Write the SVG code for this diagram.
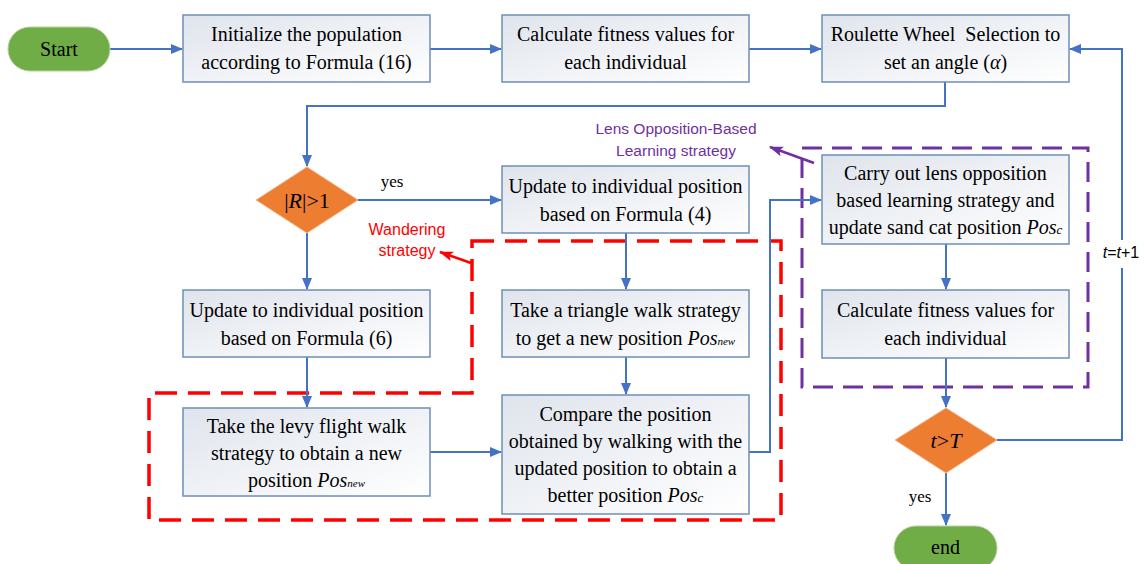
<svg xmlns="http://www.w3.org/2000/svg" width="1145" height="564" viewBox="0 0 1145 564">
<style>
.box{fill:url(#g);stroke:#6E8FB8;stroke-width:1.5}
.t{font-family:"Liberation Serif","Times New Roman",serif;font-size:20px;fill:#000;text-anchor:middle;white-space:pre}
.i{font-style:italic}
.sub{font-size:11px;font-style:italic}
.c{fill:none;stroke:#4472C4;stroke-width:2}
.term{fill:#70AD47;stroke:#B5D19C;stroke-width:1}
.dia{fill:#ED7D31;stroke:#F5B58A;stroke-width:1}
.lbl{font-family:"Liberation Sans",Arial,sans-serif;text-anchor:middle}
</style>
<defs>
<linearGradient id="g" x1="0" y1="0" x2="1" y2="1">
<stop offset="0" stop-color="#DFE4EC"/>
<stop offset="1" stop-color="#FFFFFF"/>
</linearGradient>
<marker id="a" markerWidth="12" markerHeight="12" refX="11" refY="6" orient="auto" markerUnits="userSpaceOnUse">
<path d="M0,1 L12,6 L0,11 Z" fill="#4472C4"/>
</marker>
<marker id="ar" markerWidth="14" markerHeight="12" refX="13" refY="6" orient="auto" markerUnits="userSpaceOnUse">
<path d="M0,1 L14,6 L0,11 L3,6 Z" fill="#FF0000"/>
</marker>
<marker id="ap" markerWidth="14" markerHeight="12" refX="13" refY="6" orient="auto" markerUnits="userSpaceOnUse">
<path d="M0,1 L14,6 L0,11 L3,6 Z" fill="#7030A0"/>
</marker>
</defs>
<rect width="1145" height="564" fill="#FFFFFF"/>

<g id="regions">
<path d="M472 241 H781 V520 H149 V393 H472 Z" fill="none" stroke="#FF0000" stroke-width="3.5" stroke-dasharray="22 11"/>
<path d="M802 148 H1088 V387 H802 Z" fill="none" stroke="#7030A0" stroke-width="3" stroke-dasharray="20 10"/>
<line x1="471" y1="263" x2="440" y2="252" stroke="#FF0000" stroke-width="2.5" marker-end="url(#ar)"/>
<line x1="814" y1="163" x2="770" y2="147" stroke="#7030A0" stroke-width="2.5" marker-end="url(#ap)"/>
<text class="lbl" x="407" y="235" font-size="16" fill="#FF0000">Wandering</text>
<text class="lbl" x="407" y="256" font-size="16" fill="#FF0000">strategy</text>
<text class="lbl" x="676" y="134" font-size="15.5" fill="#7030A0">Lens Opposition-Based</text>
<text class="lbl" x="676" y="156" font-size="15.5" fill="#7030A0">Learning strategy</text>
</g>

<g id="connectors">
<path class="c" d="M110 49 H182" marker-end="url(#a)"/>
<path class="c" d="M430 49 H501" marker-end="url(#a)"/>
<path class="c" d="M749 49 H821" marker-end="url(#a)"/>
<path class="c" d="M945 82 V106 H307 V166" marker-end="url(#a)"/>
<path class="c" d="M358 200 H501" marker-end="url(#a)"/>
<path class="c" d="M307 233 V289" marker-end="url(#a)"/>
<path class="c" d="M307 357 V407" marker-end="url(#a)"/>
<path class="c" d="M626 233 V289" marker-end="url(#a)"/>
<path class="c" d="M626 357 V394" marker-end="url(#a)"/>
<path class="c" d="M430 452 H501" marker-end="url(#a)"/>
<path class="c" d="M749 452 H770 V200 H821" marker-end="url(#a)"/>
<path class="c" d="M946 244 V289" marker-end="url(#a)"/>
<path class="c" d="M946 358 V407" marker-end="url(#a)"/>
<path class="c" d="M946 473 V525" marker-end="url(#a)"/>
<path class="c" d="M997 440 H1122 V268"/>
<path class="c" d="M1122 240 V49 H1070" marker-end="url(#a)"/>
<text class="t" x="392" y="187" style="font-size:17px">yes</text>
<text class="t" x="920" y="502" style="font-size:17px">yes</text>
<text class="lbl" x="1121" y="258" font-size="16"><tspan font-style="italic">t</tspan>=<tspan font-style="italic">t</tspan>+1</text>
</g>

<g id="start">
<rect class="term" x="8" y="27" width="102" height="44" rx="22"/>
<text class="t" x="59" y="56">Start</text>
</g>

<g id="init">
<rect class="box" x="183" y="15" width="247" height="67"/>
<text class="t" x="306.5" y="41">Initialize the population</text>
<text class="t" x="306.5" y="69">according to Formula (16)</text>
</g>

<g id="fitness1">
<rect class="box" x="502" y="15" width="247" height="67"/>
<text class="t" x="625.5" y="41">Calculate fitness values for</text>
<text class="t" x="625.5" y="69">each individual</text>
</g>

<g id="roulette">
<rect class="box" x="822" y="15" width="247" height="67"/>
<text class="t" x="945.5" y="41">Roulette Wheel  Selection to</text>
<text class="t" x="945.5" y="69">set an angle (<tspan class="i">α</tspan>)</text>
</g>

<g id="decisionR">
<polygon class="dia" points="307,167 358,200 307,233 256,200"/>
<text class="t" x="307" y="208" style="font-size:22px">|<tspan class="i">R</tspan>|&gt;1</text>
</g>

<g id="update4">
<rect class="box" x="502" y="166" width="247" height="67"/>
<text class="t" x="625.5" y="193">Update to individual position</text>
<text class="t" x="625.5" y="221">based on Formula (4)</text>
</g>

<g id="update6">
<rect class="box" x="183" y="290" width="247" height="67"/>
<text class="t" x="306.5" y="317">Update to individual position</text>
<text class="t" x="306.5" y="345">based on Formula (6)</text>
</g>

<g id="triangle">
<rect class="box" x="502" y="290" width="247" height="67"/>
<text class="t" x="625.5" y="317">Take a triangle walk strategy</text>
<text class="t" x="625.5" y="345">to get a new position <tspan class="i">Pos</tspan><tspan class="sub">new</tspan></text>
</g>

<g id="levy">
<rect class="box" x="183" y="408" width="247" height="88"/>
<text class="t" x="306.5" y="433">Take the levy flight walk</text>
<text class="t" x="306.5" y="460">strategy to obtain a new</text>
<text class="t" x="306.5" y="487">position <tspan class="i">Pos</tspan><tspan class="sub">new</tspan></text>
</g>

<g id="compare">
<rect class="box" x="502" y="395" width="247" height="119"/>
<text class="t" x="625.5" y="421">Compare the position</text>
<text class="t" x="625.5" y="448">obtained by walking with the</text>
<text class="t" x="625.5" y="475">updated position to obtain a</text>
<text class="t" x="625.5" y="502">better position <tspan class="i">Pos</tspan><tspan class="sub" style="font-size:13px">c</tspan></text>
</g>

<g id="lens">
<rect class="box" x="822" y="155" width="247" height="89"/>
<text class="t" x="945.5" y="180">Carry out lens opposition</text>
<text class="t" x="945.5" y="207">based learning strategy and</text>
<text class="t" x="945.5" y="234">update sand cat position <tspan class="i">Pos</tspan><tspan class="sub" style="font-size:13px">c</tspan></text>
</g>

<g id="fitness2">
<rect class="box" x="822" y="290" width="247" height="68"/>
<text class="t" x="945.5" y="317">Calculate fitness values for</text>
<text class="t" x="945.5" y="345">each individual</text>
</g>

<g id="decisionT">
<polygon class="dia" points="946,408 997,440 946,473 895,440"/>
<text class="t" x="946" y="448" style="font-size:22px"><tspan class="i">t</tspan>&gt;<tspan class="i">T</tspan></text>
</g>

<g id="end">
<rect class="term" x="894" y="526" width="103" height="44" rx="22"/>
<text class="t" x="945.5" y="554">end</text>
</g>
</svg>
